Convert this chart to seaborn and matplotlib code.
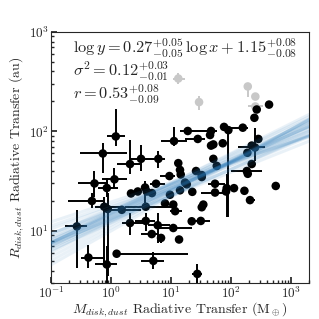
import numpy as np
import pandas as pd
import matplotlib
matplotlib.use('Agg')
import matplotlib.pyplot as plt
import seaborn as sns

# disk dust mass (M_earth) and dust radius (au), with lower/upper bounds
mass = [1.20, 0.73, 2.07, 3.16, 6.14, 0.53, 1.14, 0.85, 0.48, 0.77,
        0.88, 1.51, 2.15, 2.79, 3.69, 3.94, 4.8, 3.79, 2.07, 3.79,
        6.0, 4.77, 6.81, 10.9, 13.6, 0.27, 0.42, 1.24, 0.85, 5.07,
        7.94, 10.9, 9.6, 13.2, 14.1, 14.5, 11.2, 9.4, 17.1, 18.3,
        5.62, 14.1, 22.6, 54.1, 54.1, 84.7, 82.5, 112, 167, 556,
        207, 11.7, 34.5, 32.5, 22.1, 31.3, 27.4, 430, 268, 245,
        157, 76.4, 90.2, 46.4, 44.7, 19.0, 27.9, 50.7, 46.4, 72.7,
        221, 251, 187, 285, 221, 183, 190, 57.8, 50.7, 26.1,
        32.5, 32.5]
radius = [89, 60, 47, 53, 53, 30, 33, 27, 20, 17.5,
          16.6, 16.3, 23.8, 24.9, 27.3, 24.9, 24, 17.5, 12.0, 12.6,
          11.4, 9.3, 8.5, 10.7, 8.2, 11.1, 5.4, 5.9, 4.6, 5.0,
          18.9, 18.4, 23.1, 48, 41, 36.9, 80, 35.6, 30.6, 29.4,
          29.8, 25.6, 24.7, 29.8, 24.3, 26.9, 24.9, 26.9, 25.3, 28.3,
          20.4, 15.8, 18.4, 17.3, 12.5, 12.6, 3.7, 186, 166, 137,
          109, 111, 103, 101, 92, 101, 84, 74, 72, 76,
          72, 69, 61, 84, 47, 40, 37.5, 45, 53, 40,
          36.4, 34.8]
mass_lo = [0.86, 0.30, 1.24, 2.07, 3.2, 0.28, 0.70, 0.61, 0.19, 0.54,
           0.80, 0.79, 2.15, 2.79, 3.69, 3.94, 4.4, 1.71, 1.51, 2.5,
           4.2, 3.2, 6.0, 6.1, 13.6, 0.17, 0.32, 1.1, 0.54, 3.2,
           7.94, 10.9, 9.6, 13.2, 14.1, 14.5, 6.9, 6.5, 17.1, 18.3,
           4.5, 14.1, 22.6, 41, 31, 84.7, 82.5, 112, 167, 556,
           180, 9.6, 34.5, 32.5, 22.1, 23.6, 22, 430, 268, 245,
           98, 76.4, 90.2, 30.5, 44.7, 14.1, 17.1, 50.7, 46.4, 72.7,
           221, 131, 187, 285, 221, 101, 190, 57.8, 50.7, 26.1,
           32.5, 32.5]
mass_hi = [1.71, 1.85, 3.0, 5.8, 7.9, 0.90, 1.83, 1.3, 0.74, 1.51,
           1.0, 3.2, 2.15, 2.79, 3.69, 3.94, 5.3, 10.3, 3.69, 5.4,
           9.6, 6.1, 7.5, 22, 13.6, 0.39, 0.79, 19, 1.24, 7.5,
           7.94, 10.9, 9.6, 13.2, 14.1, 14.5, 18.3, 11.7, 17.1, 18.3,
           7.9, 14.1, 22.6, 79, 85, 84.7, 82.5, 112, 167, 556,
           250, 15, 34.5, 32.5, 22.1, 44.7, 33, 430, 268, 245,
           190, 76.4, 90.2, 57.8, 44.7, 44.7, 37, 50.7, 46.4, 72.7,
           221, 368, 187, 285, 221, 325, 190, 57.8, 50.7, 26.1,
           32.5, 32.5]
radius_lo = [72, 38, 37, 40, 43, 22, 27, 22, 17, 4.7,
             3.5, 15, 23.8, 24.9, 19, 24.9, 24, 17.5, 9.0, 10,
             7.6, 9.3, 7.6, 10.7, 8.2, 4.2, 4.2, 5.9, 2.8, 4.1,
             18.9, 18.4, 23.1, 48, 41, 36.9, 71, 35.6, 30.6, 29.4,
             29.8, 25.6, 24.7, 29.8, 24.3, 13.8, 24.9, 26.9, 25.3, 28.3,
             20.4, 15.8, 18.4, 17.3, 12.5, 12.6, 3.0, 186, 166, 137,
             109, 111, 13.8, 101, 92, 101, 84, 74, 72, 76,
             72, 50, 61, 84, 47, 40, 37.5, 45, 53, 40,
             36.4, 34.8]
radius_hi = [168, 76, 82, 73, 63, 40, 43, 34, 24, 22,
             24, 18, 23.8, 24.9, 32, 24.9, 24, 17.5, 15, 15,
             15, 9.3, 9.4, 10.7, 8.2, 16.1, 7.2, 5.9, 7.0, 6.1,
             18.9, 18.4, 23.1, 48, 41, 36.9, 112, 35.6, 30.6, 29.4,
             29.8, 25.6, 24.7, 29.8, 24.3, 37, 24.9, 26.9, 25.3, 28.3,
             20.4, 15.8, 18.4, 17.3, 12.5, 12.6, 4.6, 186, 166, 137,
             109, 111, 111, 101, 92, 101, 84, 74, 72, 76,
             72, 107, 61, 84, 47, 40, 37.5, 45, 53, 40,
             36.4, 34.8]

# excluded (grey) sources
grey_mass = [13.2, 29.3, 190, 254, 254]
grey_radius = [340, 197, 283, 224, 178]
grey_mass_lo = [10.9, 29.3, 190, 254, 194]
grey_mass_hi = [17.1, 29.3, 190, 254, 340]
grey_radius_lo = [298, 163, 221, 224, 178]
grey_radius_hi = [389, 228, 283, 224, 178]

# posterior draws of the linear fit in log space
slopes = [0.27, 0.25, 0.29, 0.23, 0.31, 0.26, 0.28, 0.24, 0.30, 0.22,
          0.32, 0.27, 0.25, 0.29, 0.21, 0.33, 0.26, 0.28, 0.24, 0.30,
          0.27, 0.26, 0.28, 0.27, 0.20, 0.34, 0.25, 0.29]
intercepts = [1.15, 1.18, 1.12, 1.20, 1.09, 1.14, 1.16, 1.21, 1.10, 1.24,
              1.06, 1.08, 1.22, 1.19, 1.26, 1.03, 1.17, 1.13, 1.11, 1.18,
              1.20, 1.10, 1.13, 1.16, 1.29, 1.00, 1.12, 1.17]
x_range = [0.1, 2000]

sns.set_theme(style='ticks')
plt.rcParams['font.family'] = 'serif'
plt.rcParams['font.serif'] = ['cmr10', 'DejaVu Serif']
plt.rcParams['mathtext.fontset'] = 'cm'
plt.rcParams['axes.formatter.use_mathtext'] = True
plt.rcParams['axes.unicode_minus'] = False

fig = plt.figure(figsize=(3.19, 3.19), dpi=100)
ax = fig.add_axes([0.16, 0.113, 0.809, 0.787])


def bars(x, y, xlo, xhi, ylo, yhi, color):
    x, y = np.array(x), np.array(y)
    xerr = [x - np.array(xlo), np.array(xhi) - x]
    yerr = [y - np.array(ylo), np.array(yhi) - y]
    ax.errorbar(x, y, xerr=xerr, yerr=yerr, fmt='none', ecolor=color,
                elinewidth=1.4, capsize=0, zorder=2)


bars(grey_mass, grey_radius, grey_mass_lo, grey_mass_hi,
     grey_radius_lo, grey_radius_hi, '#c8c8c8')
bars(mass, radius, mass_lo, mass_hi, radius_lo, radius_hi, 'black')

sns.scatterplot(x=grey_mass, y=grey_radius, color='#c8c8c8', s=38,
                edgecolor='none', ax=ax, zorder=3)
sns.scatterplot(x=mass, y=radius, color='black', s=38,
                edgecolor='none', ax=ax, zorder=3)

fan = pd.DataFrame({
    'draw': np.repeat(np.arange(len(slopes)), 2),
    'x': np.tile(x_range, len(slopes)),
})
fan['y'] = 10 ** (np.array(intercepts)[fan['draw']] +
                   np.array(slopes)[fan['draw']] * np.log10(fan['x']))
sns.lineplot(data=fan, x='x', y='y', units='draw', estimator=None,
             color='#2b7bba', alpha=0.1, lw=2.2, ax=ax, zorder=4,
             legend=False)

ax.set_xscale('log')
ax.set_yscale('log')
ax.set_xlim(0.1, 2000)
ax.set_ylim(3, 1000)
ax.tick_params(which='both', direction='in', labelsize=9.5, top=False,
               right=False, pad=1.5)
ax.tick_params(which='major', length=4)
ax.tick_params(which='minor', length=2)
for s in ax.spines.values():
    s.set_linewidth(0.8)

ax.set_xlabel(r'$M_{disk,dust}$ Radiative Transfer (M$_\oplus$)',
              fontsize=10)
ax.xaxis.set_label_coords(0.5, -0.068)
ax.set_ylabel(r'$R_{disk,dust}$ Radiative Transfer (au)', fontsize=10,
              labelpad=2)

ax.text(0.085, 0.935,
        r'$\log y = 0.27^{+0.05}_{-0.05}\,\log x + 1.15^{+0.08}_{-0.08}$',
        transform=ax.transAxes, fontsize=11.8, va='center')
ax.text(0.085, 0.845, r'$\sigma^2 = 0.12^{+0.03}_{-0.01}$',
        transform=ax.transAxes, fontsize=11.8, va='center')
ax.text(0.085, 0.752, r'$r = 0.53^{+0.08}_{-0.09}$',
        transform=ax.transAxes, fontsize=11.8, va='center')

fig.savefig('out.png', dpi=100)
